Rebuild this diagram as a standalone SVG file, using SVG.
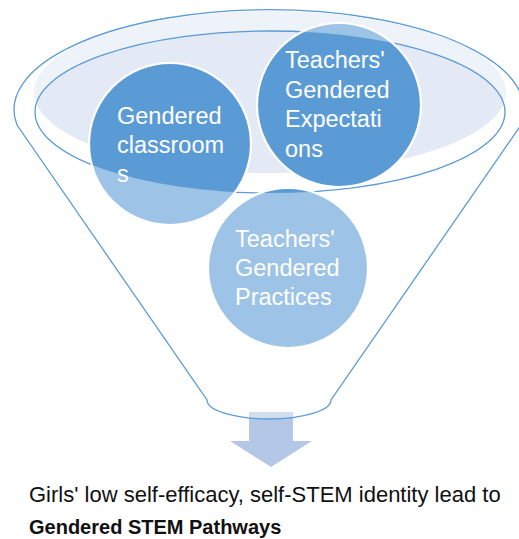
<svg xmlns="http://www.w3.org/2000/svg" width="519" height="539" viewBox="0 0 519 539">
  <style>
    .outline { fill: none; stroke: #5b9bd5; stroke-width: 1.3; }
    .disc-light { fill: #9dc3e6; }
    .disc-dark { fill: #5b9bd5; }
    .disc-ring { fill: none; stroke: #ffffff; stroke-width: 2.2; }
    .label { font-family: "Liberation Sans", Arial, sans-serif; font-size: 23.5px; fill: #ffffff; }
    .caption { font-family: "Liberation Sans", Arial, sans-serif; fill: #111111; }
  </style>
  <defs>
    <clipPath id="inner-clip">
      <ellipse cx="270" cy="112" rx="235" ry="81"/>
    </clipPath>
  </defs>

  <rect width="519" height="539" fill="#ffffff"/>

  <!-- downward arrow out of the funnel -->
  <g id="connectors">
    <path d="M249,412 L293,412 L293,441 L312,441 L271,467 L230,441 L249,441 Z" fill="#b4c7e7"/>
  </g>

  <!-- funnel body -->
  <g id="funnel">
    <path d="M17,125 A255,100 0 1 1 521,125 L331,400 A62,19 0 0 1 207,400 Z" fill="#ffffff" fill-opacity="0.4" stroke="#5b9bd5" stroke-width="1.3"/>
    <ellipse cx="270" cy="92" rx="236" ry="81" fill="#eef2f9"/>
    <ellipse cx="270" cy="92" rx="236" ry="81" fill="#e3eaf5" clip-path="url(#inner-clip)"/>
    <ellipse class="outline" cx="270" cy="112" rx="235" ry="81"/>
  </g>

  <g id="node-classrooms">
    <circle class="disc-light" cx="170" cy="144" r="81"/>
    <circle class="disc-dark" cx="170" cy="144" r="81" clip-path="url(#inner-clip)"/>
    <circle class="disc-ring" cx="170" cy="144" r="81"/>
    <text class="label" x="117" y="124">Gendered</text>
    <text class="label" x="117" y="153">classroom</text>
    <text class="label" x="117" y="182">s</text>
  </g>

  <g id="node-expectations">
    <circle class="disc-light" cx="339" cy="105" r="82"/>
    <circle class="disc-dark" cx="339" cy="105" r="82" clip-path="url(#inner-clip)"/>
    <circle class="disc-ring" cx="339" cy="105" r="82"/>
    <text class="label" x="285" y="68">Teachers'</text>
    <text class="label" x="285" y="98">Gendered</text>
    <text class="label" x="285" y="127">Expectati</text>
    <text class="label" x="285" y="157">ons</text>
  </g>

  <g id="node-practices">
    <circle class="disc-light" cx="288" cy="268" r="80"/>
    <circle class="disc-dark" cx="288" cy="268" r="80" clip-path="url(#inner-clip)"/>
    <circle class="disc-ring" cx="288" cy="268" r="80"/>
    <text class="label" x="235" y="247">Teachers'</text>
    <text class="label" x="235" y="276">Gendered</text>
    <text class="label" x="235" y="305">Practices</text>
  </g>

  <g id="caption">
    <text class="caption" x="29" y="502" font-size="22">Girls' low self-efficacy, self-STEM identity lead to</text>
    <text class="caption" x="29" y="534" font-size="20" font-weight="bold">Gendered STEM Pathways</text>
  </g>
</svg>
